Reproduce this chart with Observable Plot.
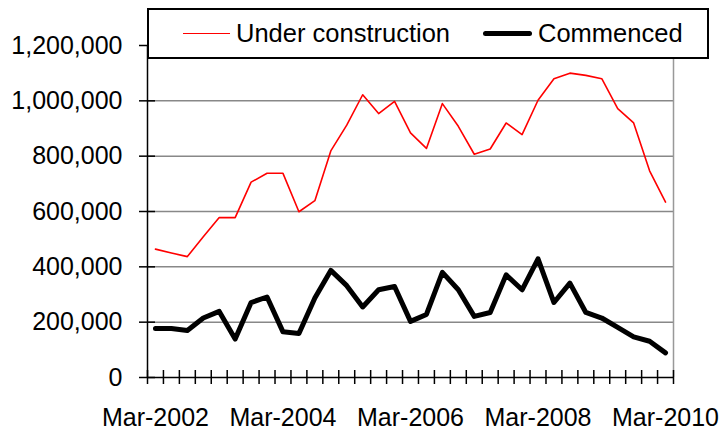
<!DOCTYPE html>
<html>
<head>
<meta charset="utf-8">
<script src="https://cdn.jsdelivr.net/npm/d3@7"></script>
<script src="https://cdn.jsdelivr.net/npm/@observablehq/plot@0.6"></script>
<style>
  html, body { margin: 0; padding: 0; background: #fff; }
  #wrap { position: relative; width: 727px; height: 430px; font-family: "Liberation Sans", Arial, sans-serif; }
  #legend { position: absolute; left: 147px; top: 8px; width: 558px; height: 47px; border: 2px solid #000; background: #fff; }
  .lg { position: absolute; top: 0; height: 47px; display: flex; align-items: center; font-size: 25.5px; color: #000; white-space: nowrap; }
  .sw { display: inline-block; width: 47px; margin-right: 6px; }
</style>
</head>
<body>
<div id="wrap">
  <div id="chart"></div>
  <div id="legend">
    <div class="lg" style="left:34px"><span class="sw" style="height:1.5px;background:#ff0000"></span>Under construction</div>
    <div class="lg" style="left:334px"><span class="sw" style="width:49px;height:5px;background:#000;border-radius:3px"></span>Commenced</div>
  </div>
</div>
<script>
const quarters = [
  "Mar-2002","Jun-2002","Sep-2002","Dec-2002",
  "Mar-2003","Jun-2003","Sep-2003","Dec-2003",
  "Mar-2004","Jun-2004","Sep-2004","Dec-2004",
  "Mar-2005","Jun-2005","Sep-2005","Dec-2005",
  "Mar-2006","Jun-2006","Sep-2006","Dec-2006",
  "Mar-2007","Jun-2007","Sep-2007","Dec-2007",
  "Mar-2008","Jun-2008","Sep-2008","Dec-2008",
  "Mar-2009","Jun-2009","Sep-2009","Dec-2009",
  "Mar-2010"
];
const underConstruction = [
  464000, 450000, 437000, 509000, 578000, 578000, 706000, 738000,
  738000, 599000, 639000, 819000, 912000, 1022000, 954000, 998000,
  884000, 828000, 990000, 908000, 807000, 826000, 920000, 878000,
  1002000, 1080000, 1100000, 1092000, 1080000, 972000, 920000, 747000,
  634000
];
const commenced = [
  177000, 177000, 170000, 215000, 239000, 139000, 271000, 291000,
  165000, 159000, 287000, 387000, 332000, 255000, 317000, 329000,
  203000, 228000, 380000, 317000, 221000, 235000, 371000, 317000,
  429000, 271000, 341000, 235000, 215000, 181000, 147000, 131000,
  89000
];
const yTicks = [0, 200000, 400000, 600000, 800000, 1000000, 1200000];
const xTickLabels = ["Mar-2002", "Mar-2004", "Mar-2006", "Mar-2008", "Mar-2010"];

const xTickIdx = xTickLabels.map(l => quarters.indexOf(l));
const boundaries = d3.range(quarters.length + 1).map(i => i - 0.5);
const ucData = underConstruction.map((v, i) => ({i, v}));
const cmData = commenced.map((v, i) => ({i, v}));
const fmt = d3.format(",");

const chart = Plot.plot({
  width: 727,
  height: 430,
  marginLeft: 147,
  marginRight: 54,
  marginTop: 45,
  marginBottom: 53,
  style: {fontFamily: "Liberation Sans, Arial, sans-serif", background: "#fff", color: "#000"},
  x: {type: "linear", domain: [-0.5, quarters.length - 0.5]},
  y: {domain: [0, 1200000]},
  marks: [
    Plot.gridY(yTicks.slice(1), {stroke: "#888", strokeOpacity: 1, strokeWidth: 1.5}),
    Plot.ruleX([quarters.length - 0.5], {y1: 0, y2: 1200000, stroke: "#999", strokeWidth: 1.5}),
    Plot.ruleX([-0.5], {y1: 0, y2: 1200000, stroke: "#000", strokeWidth: 1.5}),
    Plot.ruleY([0], {x1: -0.5, x2: quarters.length - 0.5, stroke: "#000", strokeWidth: 1.5}),
    Plot.axisY(yTicks, {tickSize: 16, dx: 8, tickPadding: 17, fontSize: 25, tickFormat: fmt, label: null, stroke: "#000", strokeWidth: 1.5, fill: "#000"}),
    Plot.axisX(boundaries, {tickSize: 14, dy: -7, tickFormat: () => "", label: null, stroke: "#000", strokeWidth: 1.5}),
    Plot.axisX(xTickIdx, {tickSize: 0, tickPadding: 31, fontSize: 25, tickFormat: i => quarters[i], label: null, fill: "#000"}),
    Plot.line(ucData, {x: "i", y: "v", stroke: "#ff0000", strokeWidth: 1.6}),
    Plot.line(cmData, {x: "i", y: "v", stroke: "#000", strokeWidth: 5, strokeLinejoin: "round", strokeLinecap: "round"})
  ]
});
document.getElementById("chart").appendChild(chart);
</script>
</body>
</html>
